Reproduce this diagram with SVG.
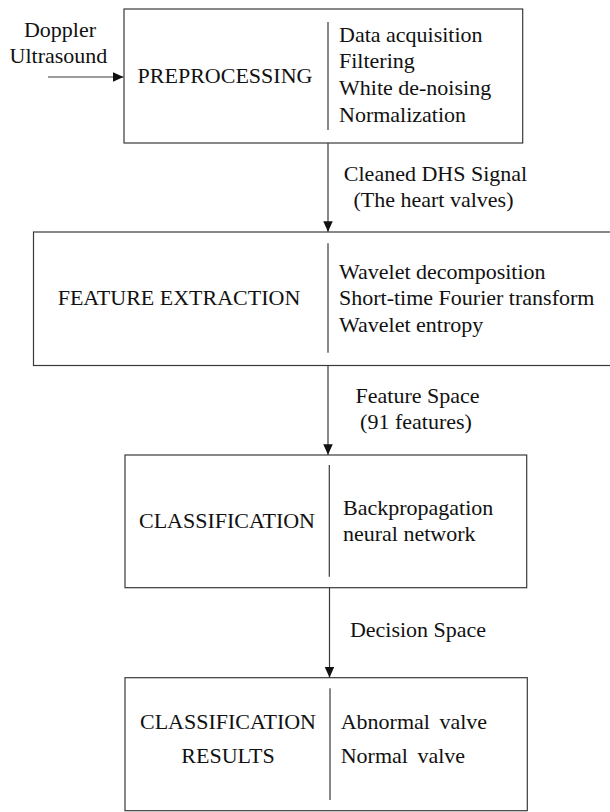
<svg xmlns="http://www.w3.org/2000/svg" width="610" height="812" viewBox="0 0 610 812" font-family="'Liberation Serif', 'DejaVu Serif', serif">
<style>
  .box { fill: none; stroke: #3a3a3a; stroke-width: 1.2; }
  .div { stroke: #3a3a3a; stroke-width: 1.2; }
  .conn { stroke: #3a3a3a; stroke-width: 1.2; fill: none; marker-end: url(#arrow); }
  text { font-family: 'Liberation Serif', 'DejaVu Serif', serif; font-size: 22px; fill: #111; }
  .mid { text-anchor: middle; }
</style>
<defs>
  <marker id="arrow" markerUnits="userSpaceOnUse" markerWidth="11" markerHeight="10" refX="10.5" refY="4.75" orient="auto">
    <path d="M0,0 L10.5,4.75 L0,9.5 z" fill="#111"/>
  </marker>
</defs>
<rect width="610" height="812" fill="#fff"/>

<g id="input-label">
  <text class="mid" x="60" y="37">Doppler</text>
  <text class="mid" x="58.5" y="63">Ultrasound</text>
</g>

<g id="preprocessing">
  <rect class="box" x="124" y="9" width="398.7" height="134"/>
  <line class="div" x1="328" y1="22" x2="328" y2="130"/>
  <text class="mid" x="225" y="83">PREPROCESSING</text>
  <text x="339" y="41.7">Data acquisition</text>
  <text x="339" y="68.3">Filtering</text>
  <text x="339" y="95">White de-noising</text>
  <text x="339" y="121.7">Normalization</text>
</g>

<g id="feature-extraction">
  <rect class="box" x="33.5" y="232" width="580" height="133.5"/>
  <line class="div" x1="328" y1="243.3" x2="328" y2="352.7"/>
  <text class="mid" x="179" y="305">FEATURE EXTRACTION</text>
  <text x="339" y="278.5">Wavelet decomposition</text>
  <text x="339" y="305">Short-time Fourier transform</text>
  <text x="339" y="331.5">Wavelet entropy</text>
</g>

<g id="classification">
  <rect class="box" x="125" y="455" width="401.7" height="132.7"/>
  <line class="div" x1="329.3" y1="465" x2="329.3" y2="576.7"/>
  <text class="mid" x="227" y="528.3">CLASSIFICATION</text>
  <text x="343" y="515">Backpropagation</text>
  <text x="343" y="541">neural network</text>
</g>

<g id="classification-results">
  <rect class="box" x="125" y="677.7" width="402.3" height="133"/>
  <line class="div" x1="330" y1="688.3" x2="330" y2="800"/>
  <text class="mid" x="228" y="729.3">CLASSIFICATION</text>
  <text class="mid" x="228" y="763.3">RESULTS</text>
  <text x="340.7" y="729.3" style="word-spacing:4px">Abnormal valve</text>
  <text x="340.7" y="763.3" style="word-spacing:4px">Normal valve</text>
</g>

<g id="connectors">
  <line class="conn" x1="48" y1="77" x2="123.5" y2="77"/>
  <line class="conn" x1="328" y1="143" x2="328" y2="231.7"/>
  <line class="conn" x1="328" y1="365.5" x2="328" y2="454.7"/>
  <line class="conn" x1="329.5" y1="587.7" x2="329.5" y2="677.5"/>
  <text class="mid" x="435.5" y="180.7">Cleaned DHS Signal</text>
  <text class="mid" x="433.5" y="206.7">(The heart valves)</text>
  <text class="mid" x="417.5" y="403.3">Feature Space</text>
  <text class="mid" x="416" y="429.3">(91 features)</text>
  <text class="mid" x="418" y="636.7">Decision Space</text>
</g>
</svg>
